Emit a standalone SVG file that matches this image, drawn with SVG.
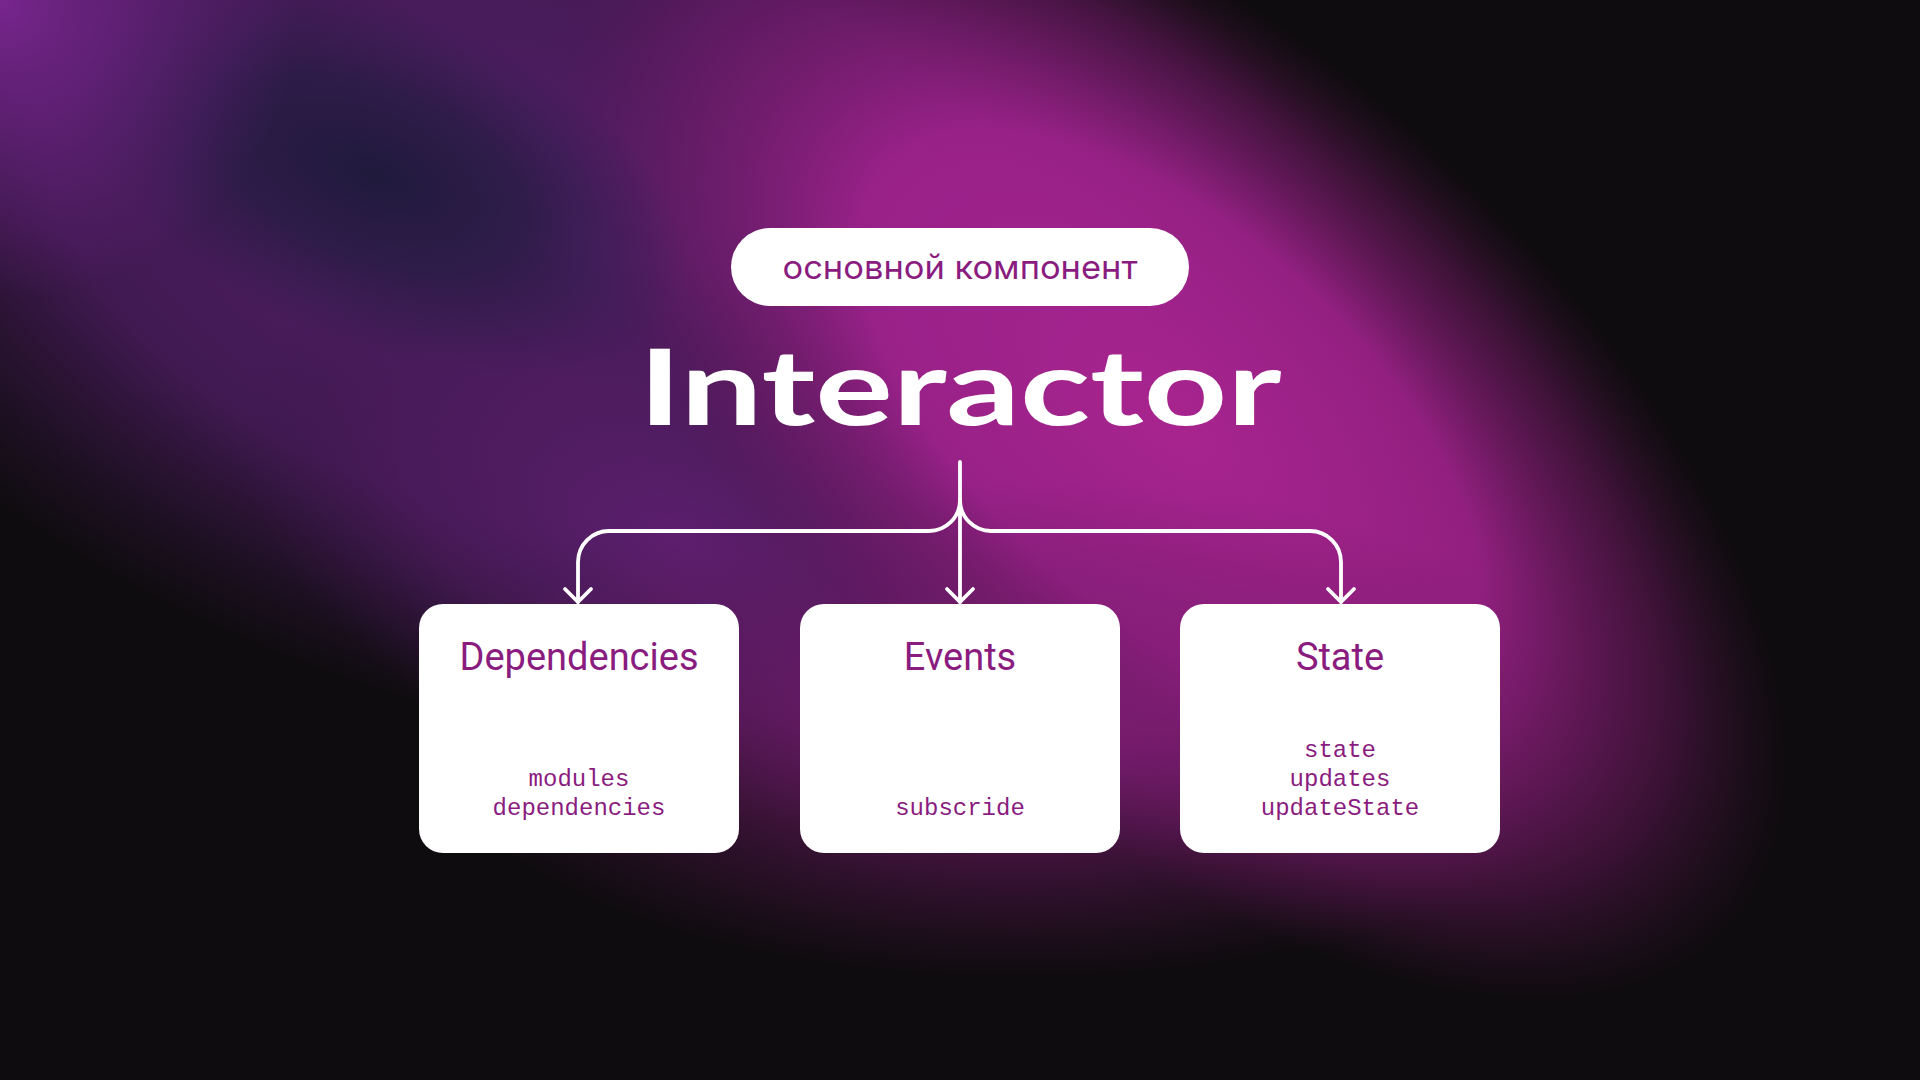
<svg xmlns="http://www.w3.org/2000/svg" width="1920" height="1080" viewBox="0 0 1920 1080">
<defs>
<radialGradient id="gPurple"><stop offset="0" stop-color="#55206a" stop-opacity="1"/><stop offset="0.6" stop-color="#4a1c5e" stop-opacity="0.85"/><stop offset="1" stop-color="#3a1648" stop-opacity="0"/></radialGradient>
<radialGradient id="gMid"><stop offset="0" stop-color="#5e1f70" stop-opacity="0.95"/><stop offset="0.6" stop-color="#4e1b5e" stop-opacity="0.6"/><stop offset="1" stop-color="#3a1648" stop-opacity="0"/></radialGradient>
<radialGradient id="gMag"><stop offset="0" stop-color="#a8248f" stop-opacity="1"/><stop offset="0.5" stop-color="#a1228d" stop-opacity="0.9"/><stop offset="0.8" stop-color="#7a1a6c" stop-opacity="0.45"/><stop offset="1" stop-color="#5a1450" stop-opacity="0"/></radialGradient>
<radialGradient id="gLow"><stop offset="0" stop-color="#8a1f80" stop-opacity="0.9"/><stop offset="1" stop-color="#6a1862" stop-opacity="0"/></radialGradient>
<radialGradient id="gNavy"><stop offset="0" stop-color="#1f1a3c" stop-opacity="1"/><stop offset="0.5" stop-color="#251b42" stop-opacity="0.75"/><stop offset="1" stop-color="#2c1c48" stop-opacity="0"/></radialGradient>
<radialGradient id="gCorner"><stop offset="0" stop-color="#78268e" stop-opacity="1"/><stop offset="1" stop-color="#6a2282" stop-opacity="0"/></radialGradient>
<marker id="chev" viewBox="-16 -16 32 32" refX="0" refY="0" markerWidth="32" markerHeight="32" markerUnits="userSpaceOnUse" orient="auto">
<path d="M-13,-13 L0,0 L-13,13" fill="none" stroke="#ffffff" stroke-width="3.8" stroke-linecap="round" stroke-linejoin="round"/>
</marker>
<style>
.box{fill:#ffffff}
.ttl{font-family:Roboto,"Noto Sans",sans-serif;font-size:38px;fill:#8a1c80;text-anchor:middle}
.mono{font-family:"Liberation Mono","DejaVu Sans Mono",monospace;font-size:24px;fill:#8a1c80;text-anchor:middle}
.conn{fill:none;stroke:#ffffff;stroke-width:3.8;stroke-linecap:round;stroke-linejoin:round}
</style>
</defs>
<g id="background">
<rect width="1920" height="1080" fill="#0e0c0e"/>
<ellipse cx="560" cy="230" rx="880" ry="500" transform="rotate(16 560 230)" fill="url(#gPurple)"/>
<ellipse cx="680" cy="540" rx="460" ry="260" transform="rotate(20 680 540)" fill="url(#gMid)"/>
<ellipse cx="1170" cy="420" rx="760" ry="380" transform="rotate(42 1170 420)" fill="url(#gMag)"/>
<ellipse cx="1020" cy="730" rx="600" ry="250" fill="url(#gLow)"/>
<ellipse cx="375" cy="175" rx="330" ry="170" transform="rotate(22 375 175)" fill="url(#gNavy)"/>
<ellipse cx="0" cy="0" rx="300" ry="300" fill="url(#gCorner)"/>
</g>
<g id="header">
<rect x="731" y="228" width="458" height="78" rx="39" fill="#ffffff"/>
<text x="960" y="279" font-family="Inter,Roboto,sans-serif" font-size="33" fill="#8a1c80" text-anchor="middle" textLength="355" lengthAdjust="spacingAndGlyphs">основной компонент</text>
</g>
<g id="title">
<text x="960" y="425" font-family="Lato,Inter,sans-serif" font-weight="700" font-size="106" fill="#ffffff" text-anchor="middle" textLength="643" lengthAdjust="spacingAndGlyphs">Interactor</text>
</g>
<g id="connectors">
<path class="conn" d="M960 462 V602" marker-end="url(#chev)"/>
<path class="conn" d="M960 500 A31 31 0 0 1 929 531 H609 A31 31 0 0 0 578 562 V602" marker-end="url(#chev)"/>
<path class="conn" d="M960 500 A31 31 0 0 0 991 531 H1310 A31 31 0 0 1 1341 562 V602" marker-end="url(#chev)"/>
</g>
<g id="node-dependencies">
<rect class="box" x="419" y="604" width="320" height="249" rx="24"/>
<text class="ttl" x="579" y="670">Dependencies</text>
<text class="mono" x="579" y="786">modules</text>
<text class="mono" x="579" y="815">dependencies</text>
</g>
<g id="node-events">
<rect class="box" x="800" y="604" width="320" height="249" rx="24"/>
<text class="ttl" x="960" y="670">Events</text>
<text class="mono" x="960" y="815">subscride</text>
</g>
<g id="node-state">
<rect class="box" x="1180" y="604" width="320" height="249" rx="24"/>
<text class="ttl" x="1340" y="670">State</text>
<text class="mono" x="1340" y="757">state</text>
<text class="mono" x="1340" y="786">updates</text>
<text class="mono" x="1340" y="815">updateState</text>
</g>
</svg>
